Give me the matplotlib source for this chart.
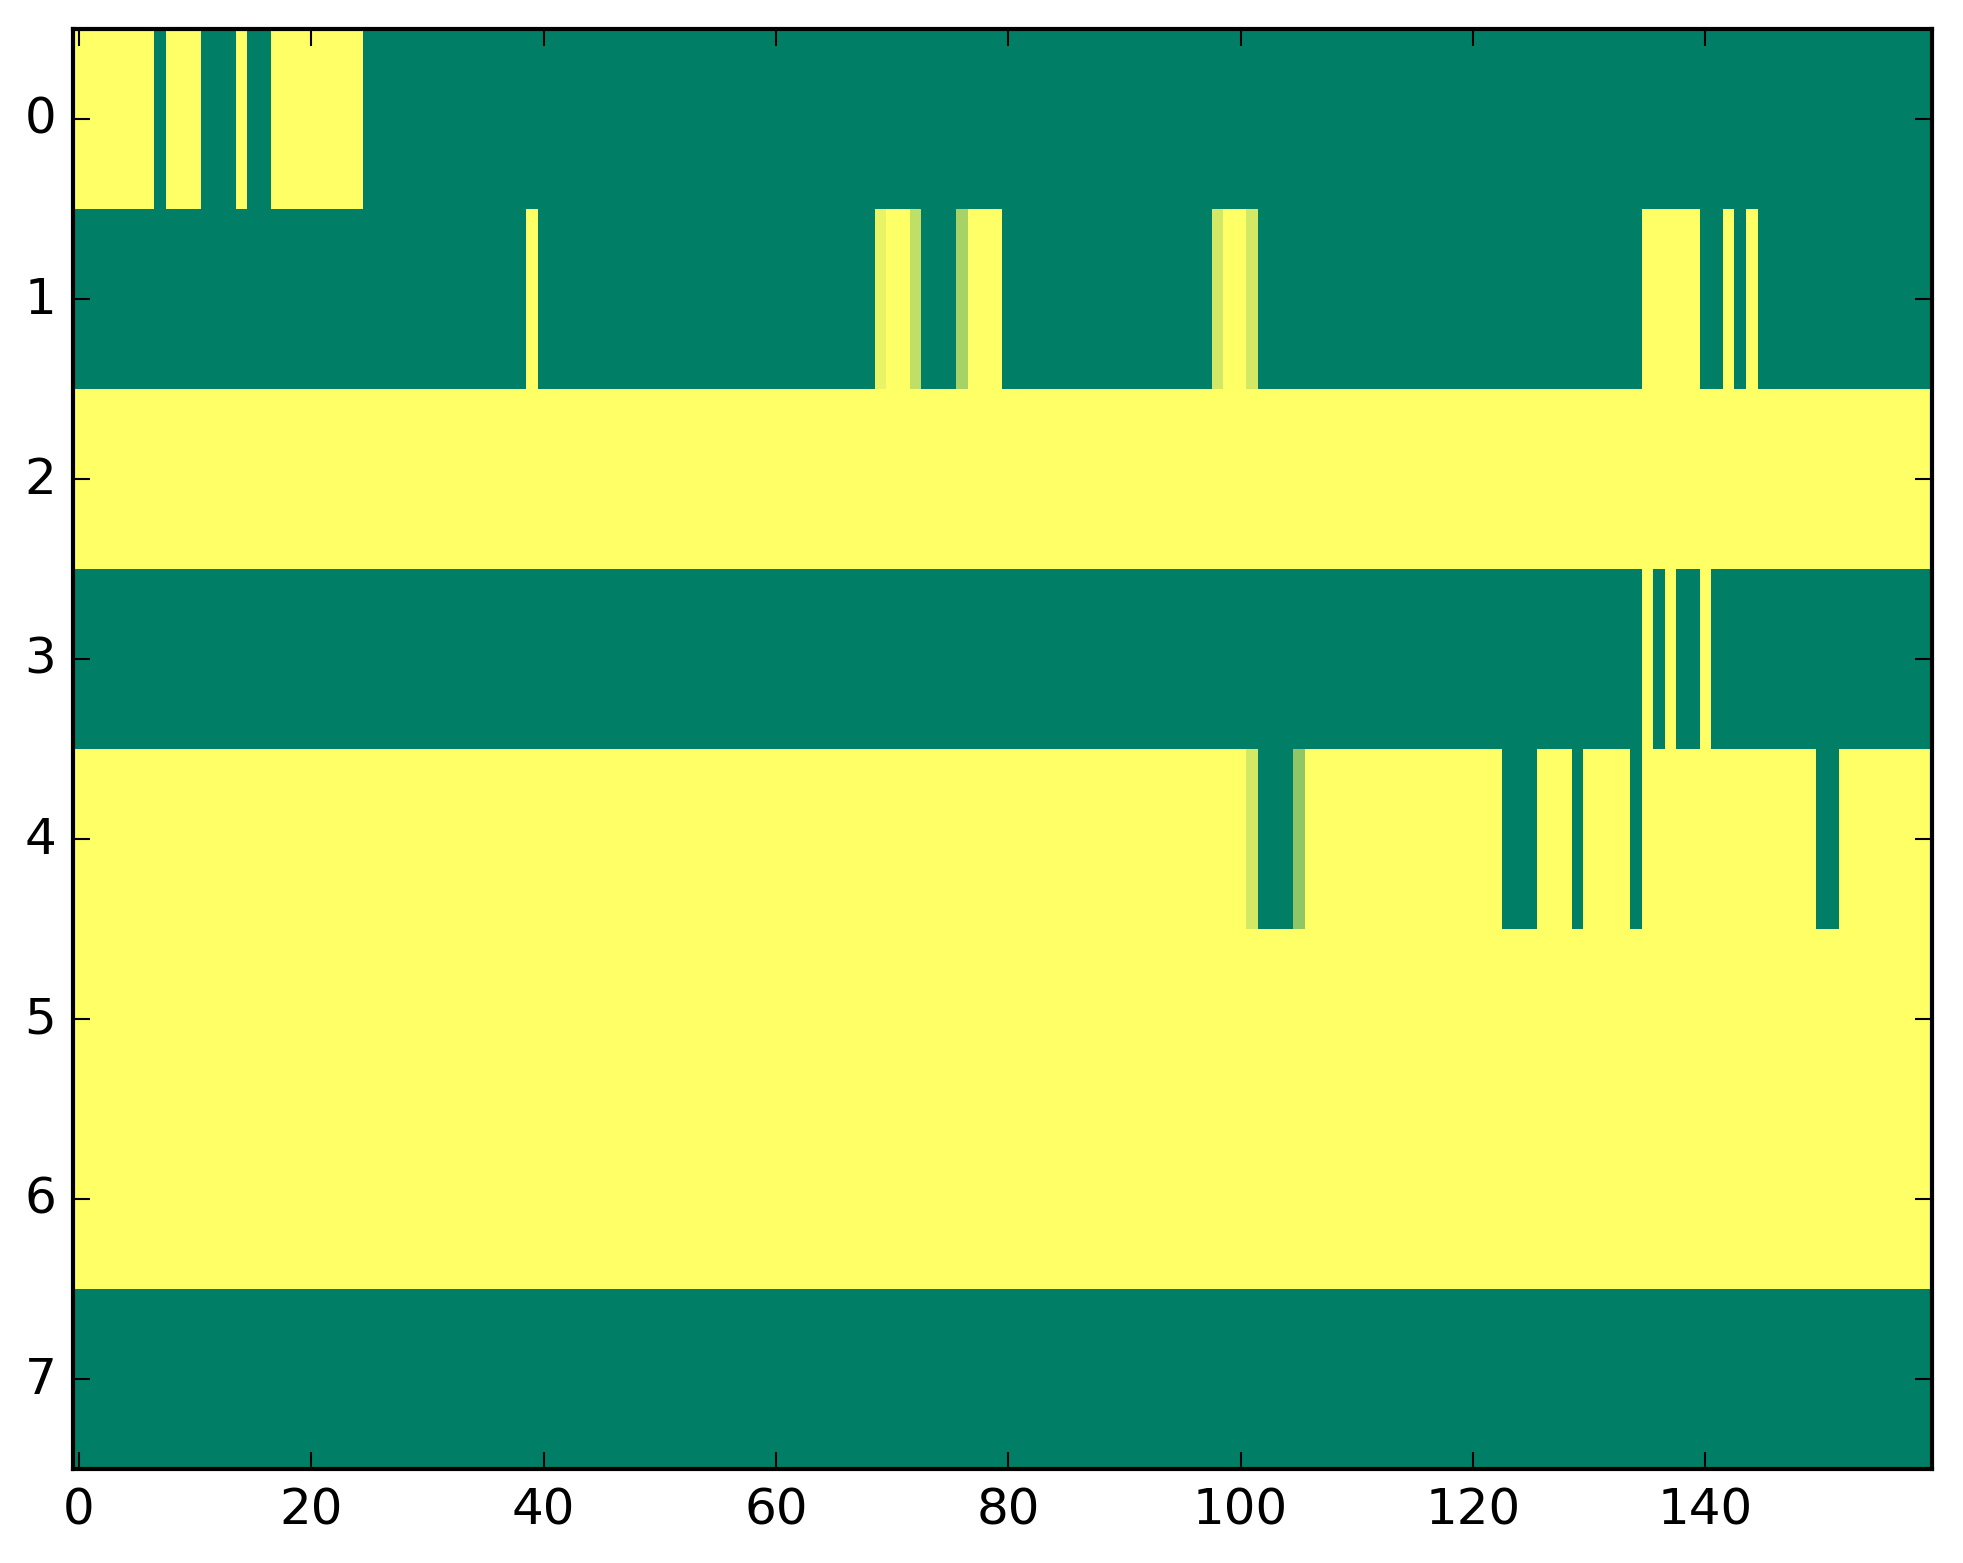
import numpy as np
import matplotlib
matplotlib.use("Agg")
import matplotlib.pyplot as plt

plt.style.use('classic')

n_rows = 8
n_cols = 160

# base value of each row (0 = green, 1 = yellow)
row_base = [0, 0, 1, 0, 1, 1, 1, 0]

# cells that differ from the row base: row -> {column: value}
row0_cells = {0: 1, 1: 1, 2: 1, 3: 1, 4: 1, 5: 1, 6: 1,
              8: 1, 9: 1, 10: 1, 14: 1,
              17: 1, 18: 1, 19: 1, 20: 1, 21: 1, 22: 1, 23: 1, 24: 1}
row1_cells = {39: 1, 69: 0.91, 70: 1, 71: 1, 72: 0.75,
              76: 0.65, 77: 1, 78: 1, 79: 1,
              98: 0.83, 99: 1, 100: 1, 101: 0.83,
              135: 1, 136: 1, 137: 1, 138: 1, 139: 1, 142: 1, 144: 1}
row3_cells = {135: 1, 137: 1, 140: 1}
row4_cells = {101: 0.83, 102: 0, 103: 0, 104: 0, 105: 0.56,
              123: 0, 124: 0, 125: 0, 129: 0, 134: 0, 150: 0, 151: 0}

exceptions = {0: row0_cells, 1: row1_cells, 3: row3_cells, 4: row4_cells}

grid = np.zeros((n_rows, n_cols))
for r, base in enumerate(row_base):
    grid[r, :] = base
    for c, v in exceptions.get(r, {}).items():
        grid[r, c] = v

fig = plt.figure(figsize=(1963 / 300, 1564 / 300), dpi=300, facecolor='white')
ax = fig.add_axes([0.0372, 0.0604, 0.947, 0.9204])
ax.imshow(grid, cmap='summer', aspect='auto', interpolation='nearest')
ax.set_xticks([0, 20, 40, 60, 80, 100, 120, 140])
ax.set_yticks(range(n_rows))
ax.tick_params(labelsize=12)

fig.savefig('out.png', dpi=300, facecolor='white')
